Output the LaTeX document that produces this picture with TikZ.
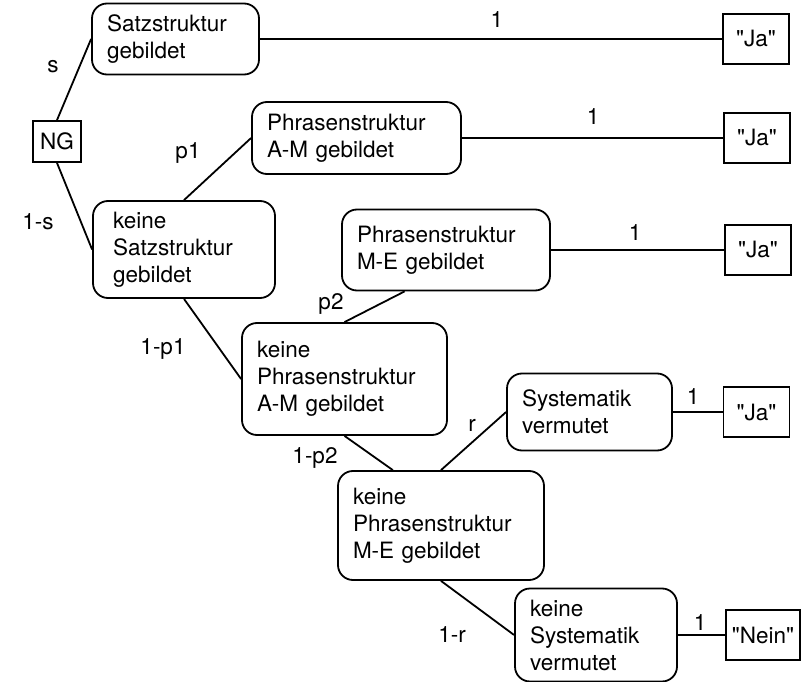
\documentclass[tikz,border=0pt]{standalone}
\usepackage{fontspec}
\setmainfont{TeX Gyre Heros}
\usetikzlibrary{positioning}

\begin{document}
\begin{tikzpicture}[x=1pt,y=-1pt,line width=1.8pt,
  font=\fontsize{22.5}{27}\selectfont,
  zustand/.style={draw,rounded corners=15pt,align=left,inner xsep=15pt,inner ysep=0pt},
  ergebnis/.style={draw,inner sep=0pt,minimum width=66pt,minimum height=50pt}]

  \useasboundingbox (0,0) rectangle (801,682);

  \node[draw,inner sep=0pt,minimum width=48pt,minimum height=41pt] (ng) at (57,141.5) {NG};

  \node[zustand,text width=137pt,minimum height=71pt] (sg) at (175.5,39) {Satzstruktur\\gebildet};
  \node[zustand,inner xsep=20pt,text width=142pt,minimum height=97pt] (ksg) at (184,249.5) {keine\\Satzstruktur\\gebildet};
  \node[zustand,text width=179pt,minimum height=72pt] (pam) at (356.5,138) {Phrasenstruktur\\A-M gebildet};
  \node[zustand,text width=178pt,minimum height=81pt] (pme) at (446,250) {Phrasenstruktur\\M-E gebildet};
  \node[zustand,text width=175pt,minimum height=112pt] (kpam) at (344.5,379) {keine\\Phrasenstruktur\\A-M gebildet};
  \node[zustand,text width=135pt,minimum height=77pt] (sv) at (589.5,412) {Systematik\\vermutet};
  \node[zustand,text width=176pt,minimum height=109pt] (kpme) at (441,525.5) {keine\\Phrasenstruktur\\M-E gebildet};
  \node[zustand,text width=132pt,minimum height=93pt] (ksv) at (596,635) {keine\\Systematik\\vermutet};

  \node[ergebnis] (ja1) at (756,39) {\textquotedbl Ja\textquotedbl};
  \node[ergebnis] (ja2) at (757,138) {\textquotedbl Ja\textquotedbl};
  \node[ergebnis] (ja3) at (758,250) {\textquotedbl Ja\textquotedbl};
  \node[ergebnis] (ja4) at (756.5,412) {\textquotedbl Ja\textquotedbl};
  \node[ergebnis,minimum width=74pt] (nein) at (763,635) {\textquotedbl Nein\textquotedbl};

  % Wahrscheinlichkeiten
  \node (ls) at (53,67) {s};
  \node (lns) at (38,222) {1-s};
  \node (lp1) at (188,153) {p1};
  \node (lnp1) at (163,349) {1-p1};
  \node (lp2) at (331,304) {p2};
  \node (lnp2) at (315,458) {1-p2};
  \node (lr) at (472,425) {r};
  \node (lnr) at (452,635) {1-r};
  \node (e1) at (497,20) {1};
  \node (e2) at (593,117) {1};
  \node (e3) at (635,233) {1};
  \node (e4) at (693,397) {1};
  \node (e5) at (700,623) {1};

  \path
    (ng.north) edge (sg.west)
    (ng.south) edge (ksg.west)
    (ksg.north) edge (pam.west)
    (ksg.south) edge (kpam.west)
    (kpam.north) edge (pme.225)
    (kpam.south) edge (kpme.131)
    (kpme.north) edge (sv.west)
    (kpme.south) edge (ksv.west)
    (sg) edge (ja1)
    (pam) edge (ja2)
    (pme) edge (ja3)
    (sv) edge (ja4)
    (ksv) edge (nein)
    ;
\end{tikzpicture}
\end{document}
